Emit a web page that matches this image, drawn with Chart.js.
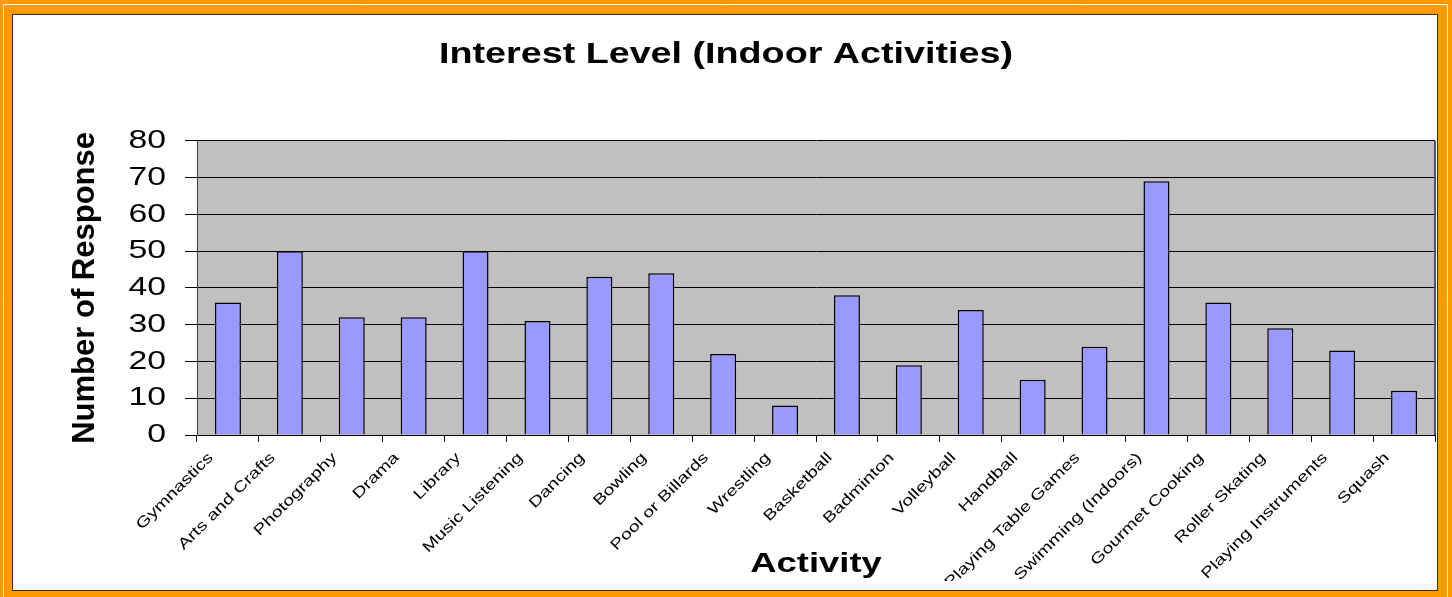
<!DOCTYPE html>
<html>
<head>
<meta charset="utf-8">
<title>Interest Level (Indoor Activities)</title>
<script src="https://cdn.jsdelivr.net/npm/chart.js@4/dist/chart.umd.min.js"></script>
<style>
  html, body { margin: 0; padding: 0; background: #fff; }
  #wrap { width: 1452px; height: 597px; }
</style>
</head>
<body>
<div id="wrap"><canvas id="myChart" width="1452" height="597"></canvas></div>
<script>
// data
var activities = ['Gymnastics', 'Arts and Crafts', 'Photography', 'Drama', 'Library',
  'Music Listening', 'Dancing', 'Bowling', 'Pool or Billards', 'Wrestling',
  'Basketball', 'Badminton', 'Volleyball', 'Handball', 'Playing Table Games',
  'Swimming (Indoors)', 'Gourmet Cooking', 'Roller Skating', 'Playing Instruments', 'Squash'];
var responses = [36, 50, 32, 32, 50, 31, 43, 44, 22, 8, 38, 19, 34, 15, 24, 69, 36, 29, 23, 12];
var yMin = 0, yMax = 80, yStep = 10;

var FONT = "'Liberation Sans', Arial, sans-serif";
var STRETCH = 1.3;   // the old chart draws its text wide

var canvas = document.getElementById('myChart');
var ctx = canvas.getContext('2d');

// widen text along its own direction (vertical axis title left as is)
var protoFill = CanvasRenderingContext2D.prototype.fillText;
ctx.fillText = function(text, x, y) {
  var t = this.getTransform();
  if (Math.abs(t.a) < 0.01) {
    return protoFill.call(this, text, x, y);
  }
  this.save();
  this.translate(x, y);
  this.scale(STRETCH, 1);
  protoFill.call(this, text, 0, 0);
  this.restore();
};

// orange frame + grey plot area
var framePlugin = {
  id: 'frame',
  beforeDraw: function(chart) {
    var c = chart.ctx, w = chart.width, h = chart.height;
    c.save();
    c.fillStyle = '#FF9900';
    c.fillRect(0, 0, w, h);
    c.strokeStyle = '#ffffff';
    c.lineWidth = 1;
    c.beginPath();
    c.moveTo(3.5, h + 2); c.lineTo(3.5, 4.5); c.lineTo(1447.5, 4.5); c.lineTo(1447.5, h + 2);
    c.stroke();
    c.fillStyle = '#ffffff';
    c.fillRect(13, 15, 1425, 575);
    c.strokeStyle = '#333333';
    c.strokeRect(12.5, 14.5, 1425, 576);
    var a = chart.chartArea;
    c.fillStyle = '#C0C0C0';
    c.fillRect(a.left, a.top, a.right - a.left, a.bottom - a.top);
    c.restore();
  },
  afterDraw: function(chart) {
    var c = chart.ctx, a = chart.chartArea;
    c.save();
    c.strokeStyle = '#555555';
    c.lineWidth = 2;
    c.beginPath();
    c.moveTo(a.right, a.top); c.lineTo(a.right, a.bottom);
    c.stroke();
    c.restore();
  }
};

var myChart = new Chart(ctx, {
  type: 'bar',
  data: {
    labels: activities,
    datasets: [{
      label: 'Number of Response',
      data: responses,
      backgroundColor: '#9999FF',
      borderColor: '#000000',
      borderWidth: 1.5,
      categoryPercentage: 1,
      barPercentage: 0.42
    }]
  },
  options: {
    responsive: false,
    animation: false,
    layout: { padding: { left: 17, right: 17, top: 0, bottom: 16 } },
    plugins: {
      legend: { display: false },
      tooltip: { enabled: false },
      title: {
        display: true,
        text: 'Interest Level (Indoor Activities)',
        color: '#000',
        font: { family: FONT, size: 29, weight: 'bold', lineHeight: 1.2 },
        padding: { top: 38, bottom: 68 }
      }
    },
    scales: {
      x: {
        afterFit: function(s) { s.height = 146; },
        grid: { drawOnChartArea: false, drawTicks: true, tickLength: 7, color: '#000', offset: true },
        border: { color: '#000', width: 1 },
        ticks: {
          color: '#000',
          font: { family: FONT, size: 15 },
          minRotation: 45, maxRotation: 45,
          autoSkip: false,
          padding: 7,
          labelOffset: -17
        },
        title: {
          display: true,
          text: 'Activity',
          color: '#000',
          font: { family: FONT, size: 28, weight: 'bold', lineHeight: 1.2 },
          padding: 0
        }
      },
      y: {
        min: yMin, max: yMax,
        afterFit: function(s) { s.width = 180; },
        grid: { color: '#000', lineWidth: 1, tickLength: 12, drawTicks: true },
        border: { color: '#404040', width: 1 },
        ticks: {
          stepSize: yStep,
          color: '#000',
          font: { family: FONT, size: 26 },
          padding: 19
        },
        title: {
          display: true,
          text: 'Number of Response',
          color: '#000',
          font: { family: FONT, size: 31, weight: 'bold', lineHeight: 1.2 },
          padding: { top: 50, bottom: 0 }
        }
      }
    }
  },
  plugins: [framePlugin]
});
</script>
</body>
</html>
